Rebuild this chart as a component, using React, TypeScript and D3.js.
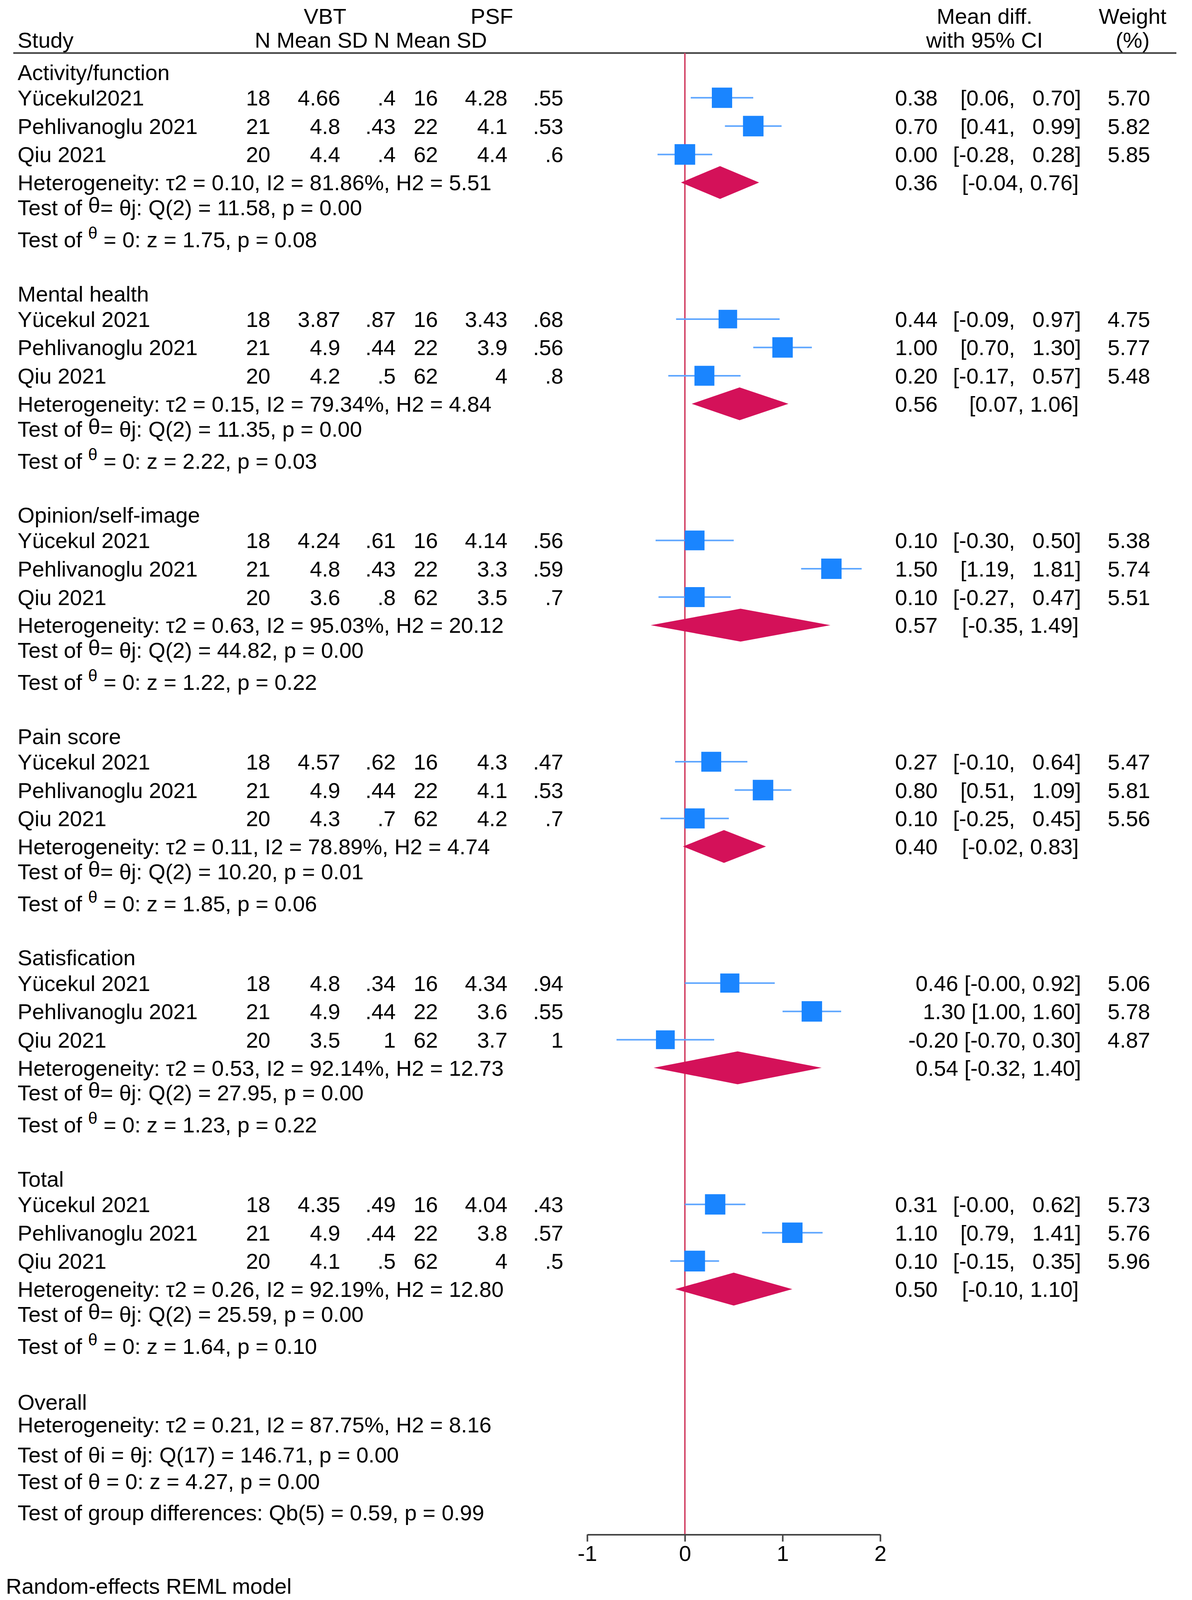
import { useEffect, useRef } from "react";
import * as d3 from "d3";

const FONT = "'Liberation Sans', Arial, Helvetica, sans-serif";
const FS = 56;

// ---- data ----
const groups = ["Activity/function", "Mental health", "Opinion/self-image", "Pain score", "Satisfication", "Total"];
const studyNames = [
  ["Yücekul2021", "Pehlivanoglu 2021", "Qiu 2021"],
  ["Yücekul 2021", "Pehlivanoglu 2021", "Qiu 2021"],
  ["Yücekul 2021", "Pehlivanoglu 2021", "Qiu 2021"],
  ["Yücekul 2021", "Pehlivanoglu 2021", "Qiu 2021"],
  ["Yücekul 2021", "Pehlivanoglu 2021", "Qiu 2021"],
  ["Yücekul 2021", "Pehlivanoglu 2021", "Qiu 2021"],
];
const vbtN = [18, 21, 20];
const psfN = [16, 22, 62];
const vbtMean = [[4.66, 4.8, 4.4], [3.87, 4.9, 4.2], [4.24, 4.8, 3.6], [4.57, 4.9, 4.3], [4.8, 4.9, 3.5], [4.35, 4.9, 4.1]];
const vbtSd = [[0.4, 0.43, 0.4], [0.87, 0.44, 0.5], [0.61, 0.43, 0.8], [0.62, 0.44, 0.7], [0.34, 0.44, 1], [0.49, 0.44, 0.5]];
const psfMean = [[4.28, 4.1, 4.4], [3.43, 3.9, 4], [4.14, 3.3, 3.5], [4.3, 4.1, 4.2], [4.34, 3.6, 3.7], [4.04, 3.8, 4]];
const psfSd = [[0.55, 0.53, 0.6], [0.68, 0.56, 0.8], [0.56, 0.59, 0.7], [0.47, 0.53, 0.7], [0.94, 0.55, 1], [0.43, 0.57, 0.5]];
const es = [[0.38, 0.7, 0.0], [0.44, 1.0, 0.2], [0.1, 1.5, 0.1], [0.27, 0.8, 0.1], [0.46, 1.3, -0.2], [0.31, 1.1, 0.1]];
const ciLo = [[0.06, 0.41, -0.28], [-0.09, 0.7, -0.17], [-0.3, 1.19, -0.27], [-0.1, 0.51, -0.25], [-0, 1.0, -0.7], [-0, 0.79, -0.15]];
const ciHi = [[0.7, 0.99, 0.28], [0.97, 1.3, 0.57], [0.5, 1.81, 0.47], [0.64, 1.09, 0.45], [0.92, 1.6, 0.3], [0.62, 1.41, 0.35]];
const weights = [[5.7, 5.82, 5.85], [4.75, 5.77, 5.48], [5.38, 5.74, 5.51], [5.47, 5.81, 5.56], [5.06, 5.78, 4.87], [5.73, 5.76, 5.96]];
const sumEs = [0.36, 0.56, 0.57, 0.4, 0.54, 0.5];
const sumLo = [-0.04, 0.07, -0.35, -0.02, -0.32, -0.1];
const sumHi = [0.76, 1.06, 1.49, 0.83, 1.4, 1.1];
const tau2 = ["0.10", "0.15", "0.63", "0.11", "0.53", "0.26"];
const i2 = ["81.86", "79.34", "95.03", "78.89", "92.14", "92.19"];
const h2 = ["5.51", "4.84", "20.12", "4.74", "12.73", "12.80"];
const qStat = ["11.58", "11.35", "44.82", "10.20", "27.95", "25.59"];
const qP = ["0.00", "0.00", "0.00", "0.01", "0.00", "0.00"];
const zStat = ["1.75", "2.22", "1.22", "1.85", "1.23", "1.64"];
const zP = ["0.08", "0.03", "0.22", "0.06", "0.22", "0.10"];
const compactCi = [false, false, false, false, true, false];
const overallLines = [
  "Heterogeneity: τ2 = 0.21, I2 = 87.75%, H2 = 8.16",
  "Test of θi = θj: Q(17) = 146.71, p = 0.00",
  "Test of θ = 0: z = 4.27, p = 0.00",
  "Test of group differences: Qb(5) = 0.59, p = 0.99",
];
const axisTicks = [-1, 0, 1, 2];

// ---- layout (vertical positions are in reference units, squeezed to fit the 4096px viewport) ----
const W = 3051;
const REF_H = 5646;
const H = 4096;
const LABEL_X = 45;
const RULE_Y = 187;
const AXIS_Y = 5415;
const GROUP_Y0 = 255;
const GROUP_STEP = 781;
const ROW_OFF = [90, 190, 290];
const SUM_OFF = 389;
const Q_OFF = 477;
const Z_OFF = 590;
const overallY = [4947, 5027, 5133, 5227, 5337];
const colRight = [692, 871, 1013, 1121, 1299, 1442];
const ES_RIGHT = 2400;
const LO_RIGHT = 2598;
const HI_RIGHT = 2767;
const W_RIGHT = 2944;

const fmt = (v: number) => (Object.is(v, -0) ? "-0.00" : v.toFixed(2));
const fmtRaw = (v: number) => String(v).replace(/^0\./, ".");

const BLUE = "#1a85ff";
const CI_BLUE = "#5ea6ff";
const CRANBERRY = "#d41159";

const yS = d3.scaleLinear().domain([0, REF_H]).range([0, H]);

function T({ x, y, children, anchor = "start", size = FS }: any) {
  return (
    <text x={x} y={yS(y) + 20} textAnchor={anchor} fontSize={size} fontFamily={FONT} fill="#000">
      {children}
    </text>
  );
}

export default function App() {
  const axisRef = useRef<SVGGElement>(null);
  const x = d3.scaleLinear().domain([-1, 2]).range([1503, 2253]);
  const size = d3.scaleSqrt().domain([0, 5.7]).range([0, 52]);
  const half = yS(58);

  useEffect(() => {
    document.body.style.margin = "0";
    if (!axisRef.current) return;
    const g = d3.select(axisRef.current);
    g.selectAll("*").remove();
    g.call(
      d3
        .axisBottom(x)
        .tickValues(axisTicks)
        .tickSize(18)
        .tickSizeOuter(0)
        .tickPadding(10)
        .tickFormat((d) => String(d))
    );
    g.select(".domain").attr("stroke", "#444").attr("stroke-width", 4);
    g.selectAll(".tick line").attr("stroke", "#444").attr("stroke-width", 4);
    g.selectAll(".tick text")
      .attr("font-size", FS)
      .attr("fill", "#000")
      .attr("font-family", FONT);
  }, []);

  return (
    <svg width={W} height={H} style={{ display: "block", background: "#fff" }}>
      <rect width={W} height={H} fill="#fff" />
      {/* headers */}
      <T x={832} y={57} anchor="middle">VBT</T>
      <T x={1259} y={57} anchor="middle">PSF</T>
      <T x={LABEL_X} y={141}>Study</T>
      <T x={652} y={141}>N Mean SD N Mean SD</T>
      <T x={2520} y={57} anchor="middle">Mean diff.</T>
      <T x={2520} y={141} anchor="middle">with 95% CI</T>
      <T x={2899} y={57} anchor="middle">Weight</T>
      <T x={2899} y={141} anchor="middle">(%)</T>
      <line x1={34} x2={3011} y1={yS(RULE_Y)} y2={yS(RULE_Y)} stroke="#3a3a3a" strokeWidth={4} />

      {/* reference line at zero */}
      <line x1={x(0)} x2={x(0)} y1={yS(RULE_Y)} y2={yS(AXIS_Y)} stroke="#d44a6b" strokeWidth={4} />

      {groups.map((gName, gi) => {
        const gy = GROUP_Y0 + GROUP_STEP * gi;
        const sy = yS(gy + SUM_OFF);
        return (
          <g key={gName}>
            <T x={LABEL_X} y={gy}>{gName}</T>
            {studyNames[gi].map((s, si) => {
              const ry = gy + ROW_OFF[si];
              const y = yS(ry);
              const vals = [
                String(vbtN[si]),
                fmtRaw(vbtMean[gi][si]),
                fmtRaw(vbtSd[gi][si]),
                String(psfN[si]),
                fmtRaw(psfMean[gi][si]),
                fmtRaw(psfSd[gi][si]),
              ];
              const side = size(weights[gi][si]);
              return (
                <g key={s + si}>
                  <T x={LABEL_X} y={ry}>{s}</T>
                  {vals.map((v, vi) => (
                    <T key={vi} x={colRight[vi]} y={ry} anchor="end">{v}</T>
                  ))}
                  <line
                    x1={x(ciLo[gi][si])}
                    x2={x(ciHi[gi][si])}
                    y1={y}
                    y2={y}
                    stroke={CI_BLUE}
                    strokeWidth={4}
                  />
                  <rect
                    x={x(es[gi][si]) - side / 2}
                    y={y - side / 2}
                    width={side}
                    height={side}
                    fill={BLUE}
                  />
                  {compactCi[gi] ? (
                    <T x={HI_RIGHT} y={ry} anchor="end">
                      {`${fmt(es[gi][si])} [${fmt(ciLo[gi][si])}, ${fmt(ciHi[gi][si])}]`}
                    </T>
                  ) : (
                    <>
                      <T x={ES_RIGHT} y={ry} anchor="end">{fmt(es[gi][si])}</T>
                      <T x={LO_RIGHT} y={ry} anchor="end">{`[${fmt(ciLo[gi][si])},`}</T>
                      <T x={HI_RIGHT} y={ry} anchor="end">{`${fmt(ciHi[gi][si])}]`}</T>
                    </>
                  )}
                  <T x={W_RIGHT} y={ry} anchor="end">{weights[gi][si].toFixed(2)}</T>
                </g>
              );
            })}
            {/* subgroup summary */}
            <polygon
              points={[
                [x(sumLo[gi]), sy],
                [x(sumEs[gi]), sy - half],
                [x(sumHi[gi]), sy],
                [x(sumEs[gi]), sy + half],
              ]
                .map((p) => p.join(","))
                .join(" ")}
              fill={CRANBERRY}
            />
            <T x={LABEL_X} y={gy + SUM_OFF}>
              {`Heterogeneity: τ2 = ${tau2[gi]}, I2 = ${i2[gi]}%, H2 = ${h2[gi]}`}
            </T>
            {compactCi[gi] ? (
              <T x={HI_RIGHT} y={gy + SUM_OFF} anchor="end">
                {`${fmt(sumEs[gi])} [${fmt(sumLo[gi])}, ${fmt(sumHi[gi])}]`}
              </T>
            ) : (
              <>
                <T x={ES_RIGHT} y={gy + SUM_OFF} anchor="end">{fmt(sumEs[gi])}</T>
                <T x={HI_RIGHT - 6} y={gy + SUM_OFF} anchor="end">
                  {`[${fmt(sumLo[gi])}, ${fmt(sumHi[gi])}]`}
                </T>
              </>
            )}
            <text x={LABEL_X} y={yS(gy + Q_OFF) + 20} fontSize={FS} fontFamily={FONT} fill="#000">
              Test of <tspan dy={-7}>θ</tspan>
              <tspan dy={7}>{`= θj: Q(2) = ${qStat[gi]}, p = ${qP[gi]}`}</tspan>
            </text>
            <text x={LABEL_X} y={yS(gy + Z_OFF) + 20} fontSize={FS} fontFamily={FONT} fill="#000">
              Test of <tspan fontSize={43} dy={-22}>θ</tspan>
              <tspan dy={22}>{` = 0: z = ${zStat[gi]}, p = ${zP[gi]}`}</tspan>
            </text>
          </g>
        );
      })}

      {/* overall */}
      <T x={LABEL_X} y={overallY[0]}>Overall</T>
      {overallLines.map((l, i) => (
        <T key={i} x={LABEL_X} y={overallY[i + 1]}>{l}</T>
      ))}

      <g ref={axisRef} transform={`translate(0,${yS(AXIS_Y)})`} />

      <T x={15} y={5597}>Random-effects REML model</T>
    </svg>
  );
}
